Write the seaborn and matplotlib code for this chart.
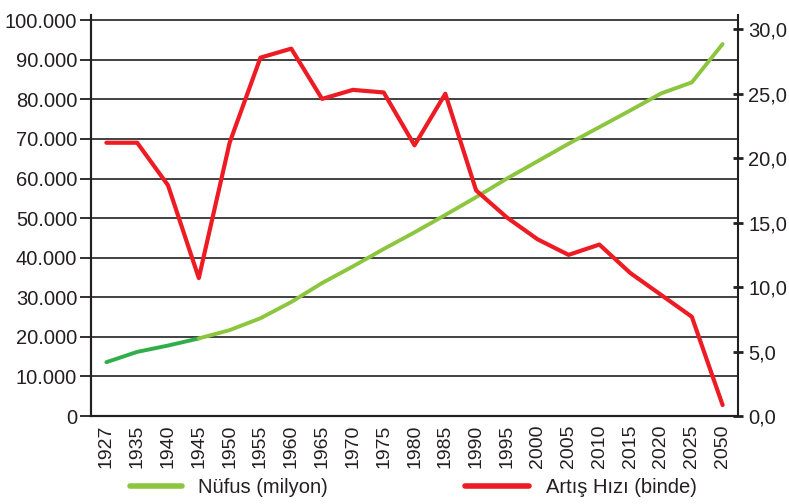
import numpy as np
import matplotlib
matplotlib.use("Agg")
import matplotlib.pyplot as plt
import seaborn as sns

# data
years = ["1927", "1935", "1940", "1945", "1950", "1955", "1960", "1965", "1970", "1975",
         "1980", "1985", "1990", "1995", "2000", "2005", "2010", "2015", "2020", "2025", "2050"]
# population in thousands (left axis)
nufus = [13600, 16200, 17800, 19600, 21700, 24700, 28800, 33600, 37800, 42200,
         46400, 50800, 55300, 60000, 64400, 68800, 73000, 77200, 81500, 84300, 94000]
# growth rate per thousand (right axis)
artis = [21.2, 21.2, 17.9, 10.7, 21.2, 27.8, 28.5, 24.6, 25.3, 25.1,
         21.0, 25.0, 17.5, 15.4, 13.7, 12.5, 13.3, 11.1, 9.4, 7.7, 0.85]
left_ticks = [0, 10000, 20000, 30000, 40000, 50000, 60000, 70000, 80000, 90000, 100000]
right_ticks = [0, 5, 10, 15, 20, 25, 30]

DARK = "#231f20"
sns.set_style("white")
plt.rcParams["font.family"] = ["Liberation Sans", "DejaVu Sans"]

pos = np.arange(len(years))
fig = plt.figure(figsize=(7.89, 5.04), dpi=100)
ax = fig.add_axes([0.1153, 0.1746, 0.8201, 0.7954])

# horizontal grid lines
for v in left_ticks[1:]:
    ax.axhline(v, color="#333333", lw=1.3, zorder=1)

# population line: dark green part until 1945, light green afterwards
sns.lineplot(x=pos[:4], y=nufus[:4], ax=ax, color="#2fae4a", lw=2.8, zorder=3)
sns.lineplot(x=pos[3:], y=nufus[3:], ax=ax, color="#8cc63f", lw=2.8, zorder=3,
             label="Nüfus (milyon)", legend=False)
ax.set_ylim(0, 101300)
ax.set_xlim(-0.5, len(years) - 0.5)
ax.set_yticks(left_ticks)
ax.set_yticklabels([f"{v:,}".replace(",", ".") for v in left_ticks], fontsize=14.5, color=DARK)
ax.set_xticks(pos)
ax.set_xticklabels(years, rotation=90, fontsize=14, color=DARK)
ax.set_xticks(np.arange(len(years) - 1) + 0.5, minor=True)
ax.tick_params(axis="x", which="major", length=0, pad=6)
ax.tick_params(axis="x", which="minor", direction="inout", length=8, width=2, color=DARK)
ax.tick_params(axis="y", direction="out", length=8, width=1.3, color=DARK, pad=2)
ax.set_xlabel("")
ax.set_ylabel("")

ax2 = ax.twinx()
sns.lineplot(x=pos, y=artis, ax=ax2, color="#ed1c24", lw=3.0, zorder=4,
             label="Artış Hızı (binde)", legend=False)
ax2.set_ylim(0, 31.1)
ax2.set_yticks(right_ticks)
ax2.set_yticklabels([f"{v:.1f}".replace(".", ",") for v in right_ticks], fontsize=14.5, color=DARK)
ax2.tick_params(axis="y", direction="inout", length=7, width=2, color=DARK, pad=4)
ax2.set_ylabel("")

for a in (ax, ax2):
    a.spines["top"].set_visible(False)
    for s in ("left", "right", "bottom"):
        a.spines[s].set_color(DARK)
        a.spines[s].set_linewidth(1.5)
ax.spines["right"].set_visible(False)

h1, l1 = ax.get_legend_handles_labels()
h2, l2 = ax2.get_legend_handles_labels()
legends = []
for h, l, x0, hl in ((h1, l1, 130 / 789, 2.6), (h2, l2, 465 / 789, 3.2)):
    leg = fig.legend(h, l, loc="center left", bbox_to_anchor=(x0, 0.032),
                     frameon=False, fontsize=14.5, handlelength=hl,
                     handletextpad=0.8, borderaxespad=0, borderpad=0)
    for t in leg.get_texts():
        t.set_color(DARK)
    for line in leg.get_lines():
        line.set_linewidth(4)
    legends.append(leg)

fig.savefig("out.png", dpi=100)
